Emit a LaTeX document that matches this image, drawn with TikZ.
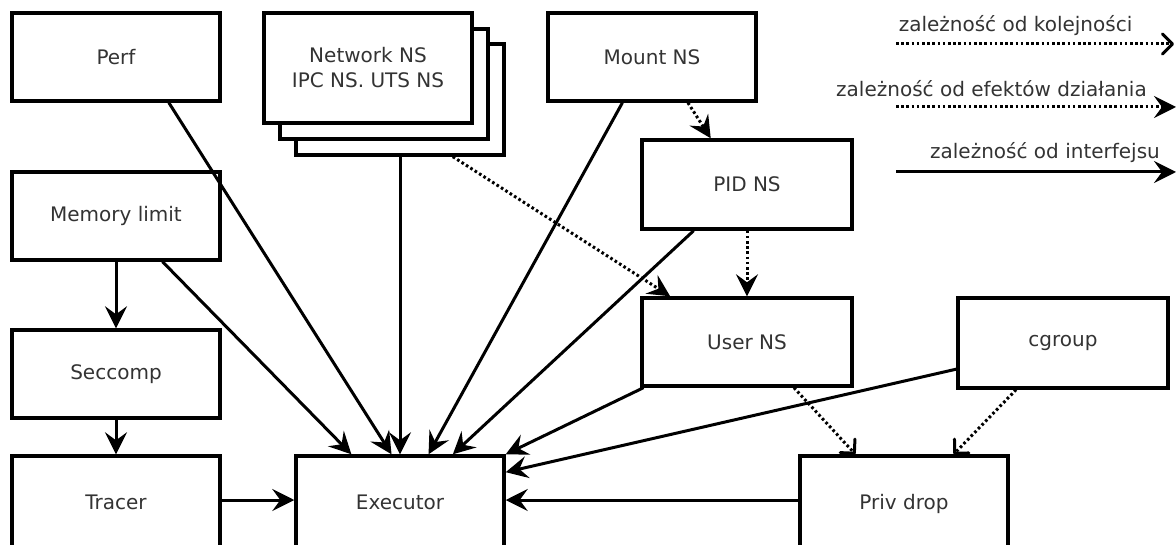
\documentclass[tikz,border=0pt]{standalone}
\usepackage{fontspec}
\setmainfont{DejaVu Sans}
\usetikzlibrary{arrows.meta,calc}
\begin{document}
\begin{tikzpicture}[x=1pt,y=-1pt,
  box/.style={draw, line width=3.4pt, fill=white, minimum width=208pt, minimum height=88pt,
    inner sep=0pt, font=\fontsize{20}{25}\selectfont, text=black!80, align=center},
  tallbox/.style={box, minimum height=96pt},
  iface/.style={line width=3pt, -{Stealth[length=22pt,width=22pt,inset=8pt]}},
  effect/.style={iface, dash pattern=on 2.6pt off 2.6pt},
  order/.style={line width=3pt, dash pattern=on 2.6pt off 2.6pt,
    -{Straight Barb[length=10pt,width=20pt,line width=3pt,round]}},
  lbl/.style={font=\fontsize{20}{25}\selectfont, text=black!80, inner sep=0pt}
]
\useasboundingbox (0,0) rectangle (1176,545);

% boxes
\node[box] (perf) at (116,57) {Perf};
\node[box, minimum height=111pt] (net3) at (400,99.5) {};
\node[box, minimum height=110pt] (net2) at (384,84) {};
\node[box, minimum height=110pt] (net1) at (368,68) {Network NS\\IPC NS. UTS NS};
\node[box] (mount) at (652,57) {Mount NS};
\node[box, minimum width=210pt, minimum height=89pt] (pid) at (747,184.5) {PID NS};
\node[box] (mem) at (116,216) {Memory limit};
\node[box] (seccomp) at (116,374) {Seccomp};
\node[tallbox] (tracer) at (116,504) {\raisebox{3pt}{Tracer}};
\node[tallbox] (executor) at (400,504) {\raisebox{3pt}{Executor}};
\node[box, minimum width=210pt] (userns) at (747,342) {User NS};
\node[box, minimum width=210pt, minimum height=90pt] (cgroup) at (1063,343) {cgroup};
\node[tallbox] (privdrop) at (904,504) {\raisebox{3pt}{Priv drop}};

% named points on the lower boxes
\coordinate (exmid) at ($(executor.north west)!0.46!(executor.south west)$);
\coordinate (exmidE) at ($(executor.north east)!0.46!(executor.south east)$);
\coordinate (trmid) at ($(tracer.north east)!0.46!(tracer.south east)$);
\coordinate (pdmid) at ($(privdrop.north west)!0.46!(privdrop.south west)$);

% interface dependencies
\draw[iface] ($(perf.south west)!0.75!(perf.south east)$) -- ($(executor.north west)!0.46!(executor.north east)$);
\draw[iface] (net3.south) -- (executor.north);
\draw[iface] ($(mount.south west)!0.36!(mount.south east)$) -- ($(executor.north west)!0.635!(executor.north east)$);
\draw[iface] ($(pid.south west)!0.25!(pid.south east)$) -- ($(executor.north west)!0.75!(executor.north east)$);
\draw[iface] (mem.south) -- (seccomp.north);
\draw[iface] ($(mem.south west)!0.72!(mem.south east)$) -- ($(executor.north west)!0.27!(executor.north east)$);
\draw[iface] (seccomp.south) -- (tracer.north);
\draw[iface] (trmid) -- (exmid);
\draw[iface] ($(userns.south west)!0.015!(userns.south east)$) -- (executor.north east);
\draw[iface] ($(cgroup.north west)!0.78!(cgroup.south west)$) -- ($(executor.north east)!0.18!(executor.south east)$);
\draw[iface] (pdmid) -- (exmidE);

% effect dependencies
\draw[effect] ($(net3.south west)!0.75!(net3.south east)$) -- ($(userns.north west)!0.14!(userns.north east)$);
\draw[effect] ($(mount.south west)!0.67!(mount.south east)$) -- ($(pid.north west)!0.33!(pid.north east)$);
\draw[effect] (pid.south) -- (userns.north);

% order dependencies
\draw[order] ($(userns.south west)!0.72!(userns.south east)$) -- ($(privdrop.north west)!0.27!(privdrop.north east)$);
\draw[order] ($(cgroup.south west)!0.28!(cgroup.south east)$) -- ($(privdrop.north west)!0.735!(privdrop.north east)$);

% legend
\coordinate (l1s) at (896,44);
\coordinate (l1e) at (1174,44);
\coordinate (l2s) at (896,107);
\coordinate (l2e) at (1176,107);
\coordinate (l3s) at (896,172);
\coordinate (l3e) at (1176,172);
\node[lbl] (t1) at (1015.5,26) {zależność od kolejności};
\node[lbl] (t2) at (991.5,89) {zależność od efektów działania};
\node[lbl] (t3) at (1045,153) {zależność od interfejsu};
\draw[order] (l1s) -- (l1e);
\draw[effect] (l2s) -- (l2e);
\draw[iface] (l3s) -- (l3e);
\end{tikzpicture}
\end{document}
